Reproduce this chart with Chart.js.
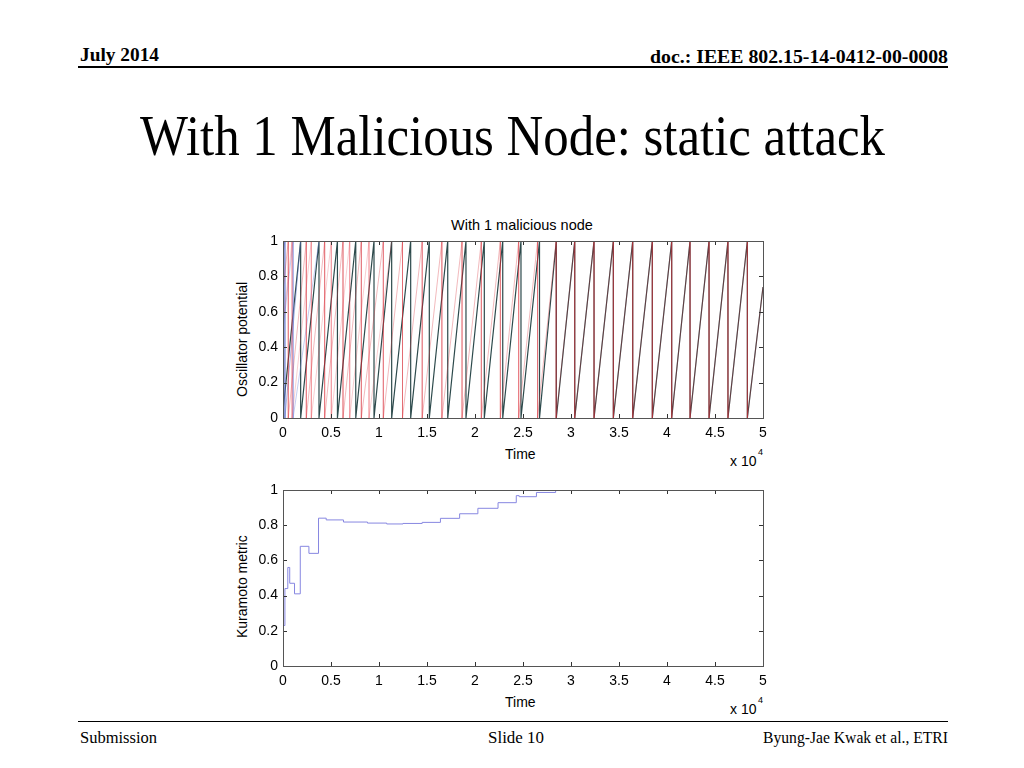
<!DOCTYPE html>
<html>
<head>
<meta charset="utf-8">
<script src="https://cdn.jsdelivr.net/npm/chart.js@4/dist/chart.umd.min.js"></script>
<style>
  body { margin: 0; width: 1024px; height: 768px; background: #fff; position: relative; overflow: hidden; }
  .t { position: absolute; white-space: nowrap; line-height: 1; transform-origin: left top; color: #000; }
  .serif { font-family: "Liberation Serif", "Times New Roman", serif; }
  .sans { font-family: "Liberation Sans", Arial, sans-serif; font-size: 14px; }
  .rule { position: absolute; left: 78px; width: 870px; background: #000; }
  canvas { position: absolute; }
</style>
</head>
<body>
<div class="t serif" data-w="79" style="left:80px;top:45px;font-size:19px;font-weight:bold">July 2014</div>
<div class="t serif" data-w="298" style="left:650px;top:47px;font-size:19px;font-weight:bold">doc.: IEEE 802.15-14-0412-00-0008</div>
<div class="rule" style="top:66px;height:2px"></div>
<div class="t serif" data-w="745" style="left:140px;top:107px;font-size:58px">With 1 Malicious Node: static attack</div>

<div class="t sans" style="left:451px;top:218px;font-size:14.5px">With 1 malicious node</div>
<div class="t sans" style="left:235px;top:397px;transform:rotate(-90deg)">Oscillator potential</div>
<div class="t sans" style="left:505px;top:447px">Time</div>
<div class="t sans" style="left:730px;top:454px">x 10</div>
<div class="t sans" style="left:758px;top:448px;font-size:9px">4</div>
<canvas id="top" width="545" height="212" style="left:230px;top:233px"></canvas>

<div class="t sans" style="left:235px;top:638px;transform:rotate(-90deg)">Kuramoto metric</div>
<div class="t sans" style="left:505px;top:695px">Time</div>
<div class="t sans" style="left:730px;top:702px">x 10</div>
<div class="t sans" style="left:758px;top:696px;font-size:9px">4</div>
<canvas id="bottom" width="545" height="211" style="left:230px;top:482px"></canvas>

<div class="rule" style="top:721px;height:1px"></div>
<div class="t serif" data-w="77" style="left:80px;top:730px;font-size:16px">Submission</div>
<div class="t serif" data-w="56" style="left:488px;top:730px;font-size:16px">Slide 10</div>
<div class="t serif" data-w="185" style="left:763px;top:730px;font-size:16px">Byung-Jae Kwak et al., ETRI</div>

<script>
// oscillator resets (time at which potential drops from 1 to 0)
var darkResets = [1840, 3750, 5670, 7580, 9480, 11320, 13300, 15240, 17160, 19060, 20970, 22890, 24790, 26720, 28470, 30390, 32400, 34410, 36430, 38470, 40490, 42400, 44380, 46350, 48370];
var darkStart = 0.04, darkEnd = 0.74;
var redResets = [550, 2430, 4340, 6250, 8160, 10450, 12450, 14500, 16550, 18650, 20660, 22640, 24550, 26520, 28450, 30390, 32400, 34410, 36430, 38470, 40490, 42400, 44380, 46350, 48370];
var redStart = 0.72, redEnd = 0.74;
var pinkResets = [940, 2950, 5030, 6950, 8960];
var pinkStart = 0.53, pinkMerge = 11320;
var blueResets = [200];
var blueStart = 0.93, blueMerge = 1840;
var blue2Resets = [1050];
var blue2Start = 0.5, blue2Merge = 3750;

// Kuramoto metric steps (value holds from time until next time)
var kTime = [0, 200, 500, 700, 1200, 1800, 2700, 3700, 4500, 6300, 8800, 10800, 12500, 14500, 16400, 18400, 20300, 22400, 24300, 24600, 26400, 28400, 50000];
var kValue = [0.23, 0.44, 0.56, 0.47, 0.41, 0.68, 0.64, 0.84, 0.83, 0.818, 0.812, 0.807, 0.81, 0.816, 0.839, 0.865, 0.896, 0.928, 0.968, 0.962, 0.986, 1.0, 1.0];

var xTicks = [0, 0.5, 1, 1.5, 2, 2.5, 3, 3.5, 4, 4.5, 5];
var yTicks = [0, 0.2, 0.4, 0.6, 0.8, 1];

function saw(start, resets, endT, endY) {
    var pts = [{x: 0, y: start}];
    resets.forEach(function (r) {
        pts.push({x: r, y: 1});
        pts.push({x: r, y: 0});
    });
    pts.push({x: endT, y: endY});
    return pts;
}

// fit slide text widths (Times in the slide is condensed)
document.querySelectorAll('[data-w]').forEach(function (el) {
    var w = el.getBoundingClientRect().width;
    el.style.transform = 'scaleX(' + (el.dataset.w / w) + ')';
});

var tickFont = {family: '"Liberation Sans", Arial, sans-serif', size: 14};

var matlabBox = {
    id: 'matlabBox',
    afterDatasetsDraw: function (chart) {
        var c = chart.ctx, a = chart.chartArea, sx = chart.scales.x, sy = chart.scales.y;
        c.save();
        c.strokeStyle = '#333';
        c.lineWidth = 1;
        c.beginPath();
        xTicks.forEach(function (t) {
            var px = Math.round(sx.getPixelForValue(t * 10000)) + 0.5;
            c.moveTo(px, a.bottom); c.lineTo(px, a.bottom - 4);
            c.moveTo(px, a.top); c.lineTo(px, a.top + 4);
        });
        yTicks.forEach(function (t) {
            var py = Math.round(sy.getPixelForValue(t)) + 0.5;
            c.moveTo(a.left, py); c.lineTo(a.left + 4, py);
            c.moveTo(a.right, py); c.lineTo(a.right - 4, py);
        });
        c.stroke();
        c.strokeStyle = '#555';
        c.strokeRect(Math.round(a.left) + 0.5, Math.round(a.top) + 0.5, Math.round(a.right - a.left), Math.round(a.bottom - a.top));
        c.restore();
    }
};

function scales() {
    return {
        x: {
            type: 'linear', min: 0, max: 50000,
            afterFit: function (s) { s.height = 27; s.paddingLeft = 0; s.paddingRight = 0; },
            afterBuildTicks: function (s) { s.ticks = xTicks.map(function (t) { return {value: t * 10000}; }); },
            grid: {display: false, drawTicks: false}, border: {display: false},
            ticks: {font: tickFont, color: '#000', padding: 7, maxRotation: 0, autoSkip: false,
                callback: function (v) { return String(v / 10000); }}
        },
        y: {
            min: 0, max: 1,
            afterFit: function (s) { s.width = 53; s.paddingTop = 0; s.paddingBottom = 0; },
            afterBuildTicks: function (s) { s.ticks = yTicks.map(function (t) { return {value: t}; }); },
            grid: {display: false, drawTicks: false}, border: {display: false},
            ticks: {font: tickFont, color: '#000', padding: 5, autoSkip: false,
                callback: function (v) { return String(+v.toFixed(1)); }}
        }
    };
}

var common = {
    responsive: false,
    animation: false,
    layout: {padding: {top: 8, right: 12, left: 0, bottom: 0}},
    plugins: {legend: {display: false}, tooltip: {enabled: false}, title: {display: false}},
    elements: {point: {radius: 0}, line: {tension: 0}}
};

new Chart(document.getElementById('top').getContext('2d'), {
    type: 'line',
    data: {
        datasets: [
            {data: saw(redStart, redResets, 50000, redEnd), borderColor: 'rgba(215,40,50,0.32)', borderWidth: 1, order: 0},
            {data: saw(pinkStart, pinkResets, pinkMerge, 1), borderColor: 'rgba(230,60,70,0.25)', borderWidth: 1, order: 1},
            {data: saw(blueStart, blueResets, blueMerge, 1), borderColor: 'rgba(90,110,200,0.5)', borderWidth: 1, order: 2},
            {data: saw(blue2Start, blue2Resets, blue2Merge, 1), borderColor: 'rgba(110,130,220,0.4)', borderWidth: 1, order: 3},
            {data: saw(darkStart, darkResets, 50000, darkEnd), borderColor: 'rgb(45,74,76)', borderWidth: 1.2, order: 4}
        ]
    },
    options: Object.assign({scales: scales()}, common),
    plugins: [matlabBox]
});

new Chart(document.getElementById('bottom').getContext('2d'), {
    type: 'line',
    data: {
        datasets: [{
            data: kTime.map(function (t, i) { return {x: t, y: kValue[i]}; }),
            borderColor: 'rgb(135,135,225)', borderWidth: 1, stepped: 'before'
        }]
    },
    options: Object.assign({scales: scales()}, common),
    plugins: [matlabBox]
});
</script>
</body>
</html>
